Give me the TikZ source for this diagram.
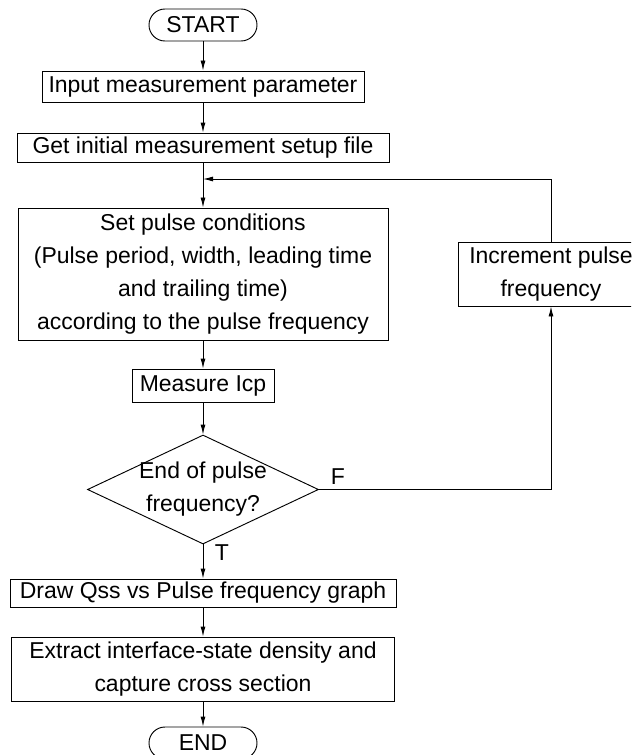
\documentclass[tikz,border=0pt]{standalone}
\usepackage{fontspec}
\setmainfont{Liberation Sans}
\usetikzlibrary{arrows.meta, shapes.geometric}

\begin{document}
\begin{tikzpicture}[x=0.03cm, y=-0.03cm,
    every node/.style={font=\fontsize{19.6}{28.2}\selectfont, inner sep=0pt, align=center},
    blk/.style={draw, line width=0.8pt, rectangle},
    term/.style={draw, line width=0.8pt, rounded corners=0.48cm, minimum width=3.24cm, minimum height=0.96cm},
    dec/.style={draw, line width=0.8pt, diamond, minimum width=6.93cm, minimum height=3.27cm},
    arr/.style={line width=0.8pt, -{Latex[length=3mm,width=1.5mm]}}
]
\clip (0,0) rectangle (631,755);
%% main column
\node[term] (start) at (203,25) {START};
\node[blk, minimum width=9.66cm, minimum height=0.93cm] (inp) at (203,86.5) {Input measurement parameter};
\node[blk, minimum width=11.16cm, minimum height=0.87cm] (get) at (203,147.5) {Get initial measurement setup file};
\node[blk, minimum width=11.1cm, minimum height=3.96cm] (set) at (203,274)
  {Set pulse conditions\\(Pulse period, width, leading time\\and trailing time)\\according to the pulse frequency};
\node[blk, minimum width=4.26cm, minimum height=0.99cm] (meas) at (203,385.5) {Measure Icp};
\node[dec] (chk) at (203,489.5) {};
\node (chktxt) at (203,489.5) {End of pulse\\frequency?};
\node[blk, minimum width=11.58cm, minimum height=0.84cm] (plot) at (203,593) {Draw Qss vs Pulse frequency graph};
\node[blk, minimum width=11.49cm, minimum height=1.92cm] (extr) at (203,669)
  {Extract interface-state density and\\capture cross section};
\node[term] (end) at (203,743) {END};
%% loop back
\node[blk, minimum width=5.58cm, minimum height=1.92cm] (inc) at (551,274) {Increment pulse\\frequency};
\coordinate (fb) at (203,179);
\node (flbl) at (338,477) {F};
\node (tlbl) at (222,553) {T};
% arrows
\draw[arr] (start) -- (inp);
\draw[arr] (inp) -- (get);
\draw[arr] (get) -- (set);
\draw[arr] (set) -- (meas);
\draw[arr] (meas) -- (chk);
\draw[arr] (chk) -- (plot);
\draw[arr] (plot) -- (extr);
\draw[arr] (extr) -- (end);
\draw[arr] (chk.east) -| (inc.south);
\draw[arr] (inc.north) |- (fb);
\end{tikzpicture}
\end{document}
